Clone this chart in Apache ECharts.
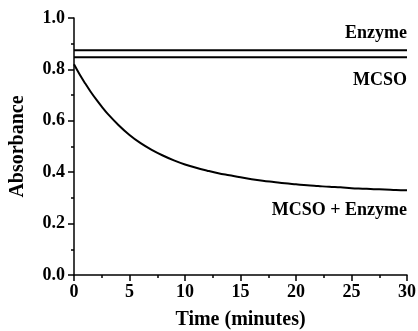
<!DOCTYPE html>
<html><head><meta charset="utf-8">
<script src="https://cdn.jsdelivr.net/npm/echarts@6/dist/echarts.min.js"></script>
<style>html,body{margin:0;padding:0;background:#fff}#c{width:418px;height:331px}</style>
</head><body><div id="c"></div>
<script>
const timeMin = [0,0.5,1,1.5,2,2.5,3,4,5,6,7,8,9,10,11,12,13,14,15,16,17,18,19,20,21,22,23,24,25,26,27,28,29,30];
const mcsoEnzyme = [0.82,0.781,0.746,0.713,0.683,0.655,0.629,0.584,0.545,0.513,0.487,0.465,0.446,0.43,0.417,0.406,0.396,0.388,0.38,0.373,0.367,0.362,0.357,0.353,0.349,0.346,0.343,0.341,0.338,0.336,0.334,0.333,0.331,0.33];
const flatTime = [0,30];
const enzyme = [0.875,0.875];
const mcso = [0.847,0.847];
const seriesNames = ['Enzyme','MCSO','MCSO + Enzyme'];
const yTicks = ['0.0','0.2','0.4','0.6','0.8','1.0'];

const FONT = '"Liberation Serif","Times New Roman",serif';
const zip = (xs, ys) => xs.map((x,i)=>[x, ys[i]]);
const chart = echarts.init(document.getElementById('c'));
const lineStyle = {color:'#000', width:2};
chart.setOption({
  animation:false,
  grid:{left:74, right:11, top:18, bottom:56, containLabel:false, outerBoundsMode:'none'},
  xAxis:{type:'value', min:0, max:30, interval:5,
    name:'Time (minutes)', nameLocation:'middle', nameGap:35,
    nameTextStyle:{fontFamily:FONT, fontWeight:'bold', fontSize:20, color:'#000'},
    axisLine:{lineStyle:{color:'#000', width:1.5}},
    axisTick:{show:true, length:6, lineStyle:{color:'#000', width:1.5}},
    minorTick:{show:true, splitNumber:2, length:3, lineStyle:{color:'#000', width:1.5}},
    splitLine:{show:false},
    axisLabel:{fontFamily:FONT, fontWeight:'bold', fontSize:18, color:'#000', margin:8}
  },
  yAxis:{type:'value', min:0, max:1, interval:0.2,
    name:'Absorbance', nameLocation:'middle', nameGap:46, nameRotate:90,
    nameTextStyle:{fontFamily:FONT, fontWeight:'bold', fontSize:20, color:'#000'},
    axisLine:{show:true, lineStyle:{color:'#000', width:1.5}},
    axisTick:{show:true, length:6, lineStyle:{color:'#000', width:1.5}},
    minorTick:{show:true, splitNumber:2, length:3, lineStyle:{color:'#000', width:1.5}},
    splitLine:{show:false},
    axisLabel:{fontFamily:FONT, fontWeight:'bold', fontSize:18, color:'#000', margin:9,
      formatter:(v)=>yTicks[Math.round(v/0.2)]}
  },
  series:[
    {name:seriesNames[0], type:'line', data:zip(flatTime, enzyme), showSymbol:false, lineStyle},
    {name:seriesNames[1], type:'line', data:zip(flatTime, mcso), showSymbol:false, lineStyle},
    {name:seriesNames[2], type:'line', data:zip(timeMin, mcsoEnzyme), showSymbol:false, smooth:0.4, lineStyle}
  ],
  graphic:[
    {type:'text', right:11, top:24, style:{text:seriesNames[0], font:'bold 18px '+FONT, fill:'#000'}},
    {type:'text', right:11, top:71, style:{text:seriesNames[1], font:'bold 18px '+FONT, fill:'#000'}},
    {type:'text', right:11, top:201, style:{text:seriesNames[2], font:'bold 18px '+FONT, fill:'#000'}}
  ]
});
</script></body></html>
